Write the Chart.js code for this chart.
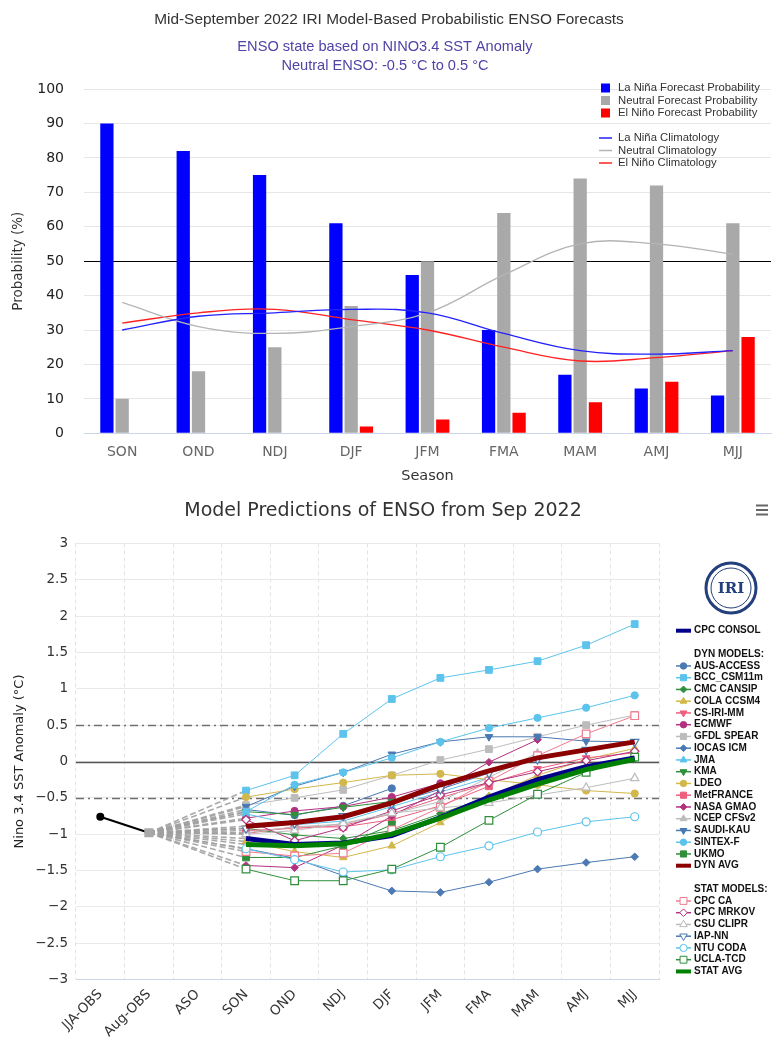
<!DOCTYPE html>
<html>
<head>
<meta charset="utf-8">
<title>ENSO Forecasts – September 2022</title>
<script src="https://cdn.jsdelivr.net/npm/chart.js@4.4.1/dist/chart.umd.min.js"></script>
<style>
  html, body { margin: 0; padding: 0; background: #ffffff; }
  #page { position: relative; width: 772px; height: 1037px; overflow: hidden; }
  #probBox { position: absolute; left: 0; top: 0; width: 772px; height: 490px; }
  #plumeBox { position: absolute; left: 0; top: 490px; width: 772px; height: 547px; }
</style>
</head>
<body>
<div id="page">
  <div id="probBox"><canvas id="probChart"></canvas></div>
  <div id="plumeBox"><canvas id="plumeChart"></canvas></div>
</div>
<script>
// ---------------- Probabilistic forecast (upper panel) ----------------
const probTitle = 'Mid-September 2022 IRI Model-Based Probabilistic ENSO Forecasts';
const probSubtitles = ['ENSO state based on NINO3.4 SST Anomaly', 'Neutral ENSO: -0.5 °C to 0.5 °C'];
const seasons = ['SON', 'OND', 'NDJ', 'DJF', 'JFM', 'FMA', 'MAM', 'AMJ', 'MJJ'];
const probTicks = [0, 10, 20, 30, 40, 50, 60, 70, 80, 90, 100];
const majorityLine = 50;

const laNinaProb  = [90, 82, 75, 61, 46, 30, 17, 13, 11];
const neutralProb = [10, 18, 25, 37, 50, 64, 74, 72, 61];
const elNinoProb  = [0, 0, 0, 2, 4, 6, 9, 15, 28];

const laNinaClim  = [30, 34, 35, 36, 35, 29, 24, 23, 24];
const neutralClim = [38, 31, 29, 31, 35, 46, 55, 55, 52];
const elNinoClim  = [32, 35, 36, 33, 30, 25, 21, 22, 24];

// ---------------- Model plume (lower panel) ----------------
const plumeTitle = 'Model Predictions of ENSO from Sep 2022';
const periods = ['JJA-OBS', 'Aug-OBS', 'ASO', 'SON', 'OND', 'NDJ', 'DJF', 'JFM', 'FMA', 'MAM', 'AMJ', 'MJJ'];
const anomalyTicks = [-3, -2.5, -2, -1.5, -1, -0.5, 0, 0.5, 1, 1.5, 2, 2.5, 3];
const neutralBounds = [-0.5, 0.5];
const obsValues = [-0.76, -0.98];

// forecast values for SON ... MJJ (null = season not forecast)
const cpcConsol = [-1.06, -1.14, -1.12, -1.02, -0.77, -0.49, -0.25, -0.07, 0.05];
const ausAccess = [-0.66, -0.74, -0.61, -0.37, null, null, null, null, null];
const bccCsm    = [-0.40, -0.19, 0.38, 0.86, 1.15, 1.26, 1.38, 1.60, 1.89];
const cmcCansip = [-0.92, -1.01, -1.06, -0.95, -0.72, -0.48, -0.26, -0.08, 0.04];
const colaCcsm4 = [-1.10, -1.24, -1.32, -1.16, -0.84, -0.48, -0.19, 0.03, 0.18];
const csIriMm   = [-0.95, -0.92, -0.88, -0.72, -0.50, -0.30, -0.10, 0.05, 0.12];
const ecmwf     = [-0.78, -0.68, -0.62, -0.49, -0.30, null, null, null, null];
const gfdlSpear = [-0.60, -0.50, -0.39, -0.19, 0.02, 0.17, 0.34, 0.50, 0.64];
const iocasIcm  = [-1.20, -1.33, -1.57, -1.78, -1.80, -1.66, -1.48, -1.39, -1.31];
const jma       = [-0.72, -0.87, -0.82, -0.62, -0.42, -0.22, null, null, null];
const kma       = [-0.69, -0.73, -0.63, -0.55, null, null, null, null, null];
const ldeo      = [-0.49, -0.38, -0.29, -0.19, -0.17, -0.25, -0.32, -0.40, -0.44];
const metFrance = [-0.99, -0.90, -0.90, -0.80, -0.61, -0.34, null, null, null];
const nasaGmao  = [-1.43, -1.46, -1.15, -0.75, -0.40, -0.01, 0.30, null, null];
const ncepCfs   = [-0.98, -0.90, -0.86, -0.72, -0.55, -0.22, 0.12, null, null];
const saudiKau  = [-0.62, -0.34, -0.15, 0.10, 0.27, 0.34, 0.34, 0.28, 0.27];
const sintexF   = [-0.69, -0.32, -0.15, 0.05, 0.27, 0.46, 0.60, 0.74, 0.91];
const ukmo      = [-1.32, -1.32, -1.16, -0.87, null, null, null, null, null];
const dynAvg    = [-0.89, -0.84, -0.76, -0.57, -0.32, -0.13, 0.05, 0.16, 0.27];
const cpcCa     = [-1.24, -1.30, -1.26, -0.94, -0.63, -0.27, 0.08, 0.38, 0.63];
const cpcMrkov  = [-0.80, -1.09, -0.91, -0.68, -0.46, -0.29, -0.14, 0.01, 0.14];
const csuClipr  = [-1.00, -0.95, -0.85, -0.71, -0.64, -0.57, -0.46, -0.36, -0.23];
const iapNn     = [-0.92, -0.85, -0.75, -0.58, -0.38, -0.16, 0.03, 0.16, 0.27];
const ntuCoda   = [-1.20, -1.35, -1.52, -1.49, -1.31, -1.16, -0.97, -0.83, -0.76];
const uclaTcd   = [-1.48, -1.64, -1.64, -1.48, -1.18, -0.81, -0.45, -0.15, 0.06];
const statAvg   = [-1.14, -1.16, -1.13, -1.00, -0.78, -0.53, -0.31, -0.11, 0.03];

// palette
const SKY = '#5cc3ec', STEEL = '#4a79b3', GREEN = '#2f8f3a', GOLD = '#d2b74a',
      ROSE = '#ee5e7d', PLUM = '#b2327f', SILVER = '#bcbcbc';

const plumeSeries = [
  { name: 'CPC CONSOL', values: cpcConsol, color: '#00008b', avg: true, order: 2 },
  { name: 'AUS-ACCESS', values: ausAccess, color: STEEL, style: 'circle', r: 3.6 },
  { name: 'BCC_CSM11m', values: bccCsm, color: SKY, style: 'rect', r: 4.8 },
  { name: 'CMC CANSIP', values: cmcCansip, color: GREEN, style: 'rectRot', r: 3.8 },
  { name: 'COLA CCSM4', values: colaCcsm4, color: GOLD, style: 'triangle', r: 4.4 },
  { name: 'CS-IRI-MM', values: csIriMm, color: ROSE, style: 'triangle', rot: 180, r: 4.4 },
  { name: 'ECMWF', values: ecmwf, color: PLUM, style: 'circle', r: 3.6 },
  { name: 'GFDL SPEAR', values: gfdlSpear, color: SILVER, style: 'rect', r: 4.8 },
  { name: 'IOCAS ICM', values: iocasIcm, color: STEEL, style: 'rectRot', r: 3.8 },
  { name: 'JMA', values: jma, color: SKY, style: 'triangle', r: 4.4 },
  { name: 'KMA', values: kma, color: GREEN, style: 'triangle', rot: 180, r: 4.4 },
  { name: 'LDEO', values: ldeo, color: GOLD, style: 'circle', r: 3.6 },
  { name: 'MetFRANCE', values: metFrance, color: ROSE, style: 'rect', r: 4.8 },
  { name: 'NASA GMAO', values: nasaGmao, color: PLUM, style: 'rectRot', r: 3.8 },
  { name: 'NCEP CFSv2', values: ncepCfs, color: SILVER, style: 'triangle', r: 4.4 },
  { name: 'SAUDI-KAU', values: saudiKau, color: STEEL, style: 'triangle', rot: 180, r: 4.4 },
  { name: 'SINTEX-F', values: sintexF, color: SKY, style: 'circle', r: 3.6 },
  { name: 'UKMO', values: ukmo, color: GREEN, style: 'rect', r: 4.8 },
  { name: 'DYN AVG', values: dynAvg, color: '#8b0000', avg: true, order: 3 },
  { name: 'CPC CA', values: cpcCa, color: '#f07a8e', style: 'rect', r: 5.4, hollow: true },
  { name: 'CPC MRKOV', values: cpcMrkov, color: PLUM, style: 'rectRot', r: 4.2, hollow: true },
  { name: 'CSU CLIPR', values: csuClipr, color: SILVER, style: 'triangle', r: 4.8, hollow: true },
  { name: 'IAP-NN', values: iapNn, color: STEEL, style: 'triangle', rot: 180, r: 4.8, hollow: true },
  { name: 'NTU CODA', values: ntuCoda, color: SKY, style: 'circle', r: 4.0, hollow: true },
  { name: 'UCLA-TCD', values: uclaTcd, color: GREEN, style: 'rect', r: 5.4, hollow: true },
  { name: 'STAT AVG', values: statAvg, color: '#008000', avg: true, order: 1 }
];

const legendRows = [
  'CPC CONSOL', '', 'DYN MODELS:',
  'AUS-ACCESS', 'BCC_CSM11m', 'CMC CANSIP', 'COLA CCSM4', 'CS-IRI-MM', 'ECMWF', 'GFDL SPEAR',
  'IOCAS ICM', 'JMA', 'KMA', 'LDEO', 'MetFRANCE', 'NASA GMAO', 'NCEP CFSv2', 'SAUDI-KAU',
  'SINTEX-F', 'UKMO', 'DYN AVG', '', 'STAT MODELS:',
  'CPC CA', 'CPC MRKOV', 'CSU CLIPR', 'IAP-NN', 'NTU CODA', 'UCLA-TCD', 'STAT AVG'
];

// ---------------- shared defaults ----------------
Chart.defaults.font.family = "'DejaVu Sans', sans-serif";
Chart.defaults.color = '#333333';
Chart.defaults.animation = false;
Chart.defaults.events = [];
Chart.defaults.devicePixelRatio = 1;

// ---------------- upper panel plugins ----------------
const probHeader = {
  id: 'probHeader',
  afterDraw(chart) {
    const ctx = chart.ctx;
    ctx.save();
    ctx.textAlign = 'center';
    ctx.textBaseline = 'middle';
    ctx.fillStyle = '#333333';
    ctx.font = "15.4px 'Liberation Sans', sans-serif";
    ctx.fillText(probTitle, 389, 20);
    ctx.fillStyle = '#4f43a6';
    ctx.font = "14.6px 'Liberation Sans', sans-serif";
    probSubtitles.forEach((t, i) => ctx.fillText(t, 385, 47 + i * 19));
    ctx.restore();
  }
};

const probThreshold = {
  id: 'probThreshold',
  beforeDatasetsDraw(chart) {
    const { ctx, chartArea: a, scales: { y } } = chart;
    const py = Math.round(y.getPixelForValue(majorityLine)) + 0.5;
    ctx.save();
    ctx.strokeStyle = '#000000';
    ctx.lineWidth = 1.2;
    ctx.beginPath();
    ctx.moveTo(a.left, py);
    ctx.lineTo(a.right, py);
    ctx.stroke();
    ctx.restore();
  }
};

const probLegend = {
  id: 'probLegend',
  afterDraw(chart) {
    const ctx = chart.ctx;
    const sets = chart.data.datasets;
    ctx.save();
    ctx.font = "11.3px 'Liberation Sans', sans-serif";
    ctx.textBaseline = 'middle';
    ctx.textAlign = 'left';
    let barRow = 0, lineRow = 0;
    sets.forEach(ds => {
      let y;
      if (ds.type === 'line') {
        y = 138 + lineRow * 12.5; lineRow++;
        ctx.strokeStyle = ds.borderColor;
        ctx.lineWidth = 1.5;
        ctx.beginPath(); ctx.moveTo(599, y); ctx.lineTo(612, y); ctx.stroke();
      } else {
        y = 88 + barRow * 12.5; barRow++;
        ctx.fillStyle = ds.backgroundColor;
        ctx.fillRect(601, y - 4.5, 9, 9);
      }
      ctx.fillStyle = '#333333';
      ctx.fillText(ds.label, 618, y);
    });
    ctx.restore();
  }
};

new Chart(document.getElementById('probChart'), {
  type: 'bar',
  data: {
    labels: seasons,
    datasets: [
      { label: 'La Niña Forecast Probability', data: laNinaProb, backgroundColor: '#0000ff', order: 2 },
      { label: 'Neutral Forecast Probability', data: neutralProb, backgroundColor: '#a9a9a9', order: 2 },
      { label: 'El Niño Forecast Probability', data: elNinoProb, backgroundColor: '#ff0000', order: 2 },
      { type: 'line', label: 'La Niña Climatology', data: laNinaClim, borderColor: '#2222ff', borderWidth: 1.3, pointRadius: 0, tension: 0.4, order: 1 },
      { type: 'line', label: 'Neutral Climatology', data: neutralClim, borderColor: '#b4b4b4', borderWidth: 1.3, pointRadius: 0, tension: 0.4, order: 1 },
      { type: 'line', label: 'El Niño Climatology', data: elNinoClim, borderColor: '#ff2222', borderWidth: 1.3, pointRadius: 0, tension: 0.4, order: 1 }
    ]
  },
  options: {
    responsive: true,
    maintainAspectRatio: false,
    layout: { padding: { top: 89, right: 1, left: 0, bottom: 0 } },
    datasets: { bar: { barPercentage: 0.87, categoryPercentage: 0.6 } },
    plugins: { legend: { display: false }, tooltip: { enabled: false }, title: { display: false } },
    scales: {
      x: {
        grid: { display: false },
        border: { display: true, color: '#ccd6eb' },
        ticks: { color: '#666666', font: { size: 14 }, padding: 3 },
        title: { display: true, text: 'Season', color: '#333333', font: { size: 14.5 }, padding: { top: 0, bottom: 5 } },
        afterFit(s) { s.height = 56.7; }
      },
      y: {
        min: 0, max: 100,
        afterBuildTicks(s) { s.ticks = probTicks.map(v => ({ value: v })); },
        ticks: { color: '#222222', font: { size: 14 }, padding: 20 },
        grid: { color: '#e6e6e6', drawTicks: false },
        border: { display: false },
        title: { display: true, text: 'Probability (%)', color: '#333333', font: { size: 13.5 }, padding: { top: 10, bottom: 0 } },
        afterFit(s) { s.width = 84; }
      }
    }
  },
  plugins: [probThreshold, probHeader, probLegend]
});

// ---------------- lower panel plugins ----------------
const plumeRefLines = {
  id: 'plumeRefLines',
  beforeDatasetsDraw(chart) {
    const { ctx, chartArea: a, scales: { y } } = chart;
    ctx.save();
    ctx.strokeStyle = '#707070';
    ctx.lineWidth = 1.6;
    ctx.setLineDash([8, 4, 2, 4]);
    neutralBounds.forEach(v => {
      const py = Math.round(y.getPixelForValue(v)) + 0.5;
      ctx.beginPath(); ctx.moveTo(a.left, py); ctx.lineTo(a.right, py); ctx.stroke();
    });
    ctx.setLineDash([]);
    ctx.strokeStyle = '#555555';
    ctx.lineWidth = 1.5;
    const p0 = Math.round(y.getPixelForValue(0)) + 0.5;
    ctx.beginPath(); ctx.moveTo(a.left, p0); ctx.lineTo(a.right, p0); ctx.stroke();
    ctx.restore();
  }
};

const plumeDecor = {
  id: 'plumeDecor',
  afterDraw(chart) {
    const ctx = chart.ctx;
    ctx.save();
    // title
    ctx.fillStyle = '#333333';
    ctx.font = "19px 'DejaVu Sans', sans-serif";
    ctx.textAlign = 'center';
    ctx.textBaseline = 'middle';
    ctx.fillText(plumeTitle, 383, 21);
    // export menu glyph
    ctx.strokeStyle = '#666666';
    ctx.lineWidth = 2;
    [15.5, 20, 24.5].forEach(yy => { ctx.beginPath(); ctx.moveTo(756, yy); ctx.lineTo(768, yy); ctx.stroke(); });
    // IRI emblem
    ctx.translate(731, 98);
    ctx.beginPath(); ctx.arc(0, 0, 25, 0, Math.PI * 2);
    ctx.fillStyle = '#ffffff'; ctx.fill();
    ctx.lineWidth = 3; ctx.strokeStyle = '#23407c'; ctx.stroke();
    ctx.beginPath(); ctx.arc(0, 0, 20, 0, Math.PI * 2);
    ctx.lineWidth = 1; ctx.stroke();
    ctx.fillStyle = '#23407c';
    ctx.font = "bold 15px 'DejaVu Serif', serif";
    ctx.fillText('IRI', 0, 1);
    ctx.restore();
  }
};

const plumeLegend = {
  id: 'plumeLegend',
  afterDraw(chart) {
    const ctx = chart.ctx;
    const sets = chart.data.datasets;
    ctx.save();
    ctx.font = "bold 10px 'Liberation Sans', sans-serif";
    ctx.textAlign = 'left';
    ctx.textBaseline = 'middle';
    legendRows.forEach((name, i) => {
      if (!name) return;
      const y = 140.7 + i * 11.75;
      const ds = sets.find(d => d.label === name);
      if (ds) {
        ctx.strokeStyle = ds.borderColor;
        ctx.lineWidth = ds.isAverage ? 4 : 1.5;
        ctx.beginPath(); ctx.moveTo(676, y); ctx.lineTo(691, y); ctx.stroke();
        if (!ds.isAverage) {
          ctx.fillStyle = ds.pointBackgroundColor;
          ctx.strokeStyle = ds.borderColor;
          ctx.lineWidth = 1;
          Chart.helpers.drawPoint(ctx, {
            pointStyle: ds.pointStyle, rotation: ds.pointRotation,
            radius: ds.markerRadius * 0.9, borderWidth: 1
          }, 683.5, y);
        }
      }
      ctx.fillStyle = '#111111';
      ctx.fillText(name, 694, y);
    });
    ctx.restore();
  }
};

// each forecast is prefixed with the August observation so the dashed
// connector runs from Aug-OBS (index 1) across ASO to the first forecast season
const FIRST_FORECAST = 3;
function plumeDataset(s, idx) {
  const data = [null, obsValues[1], null].concat(s.values);
  const fill = s.hollow ? '#ffffff' : s.color;
  const isConnector = c => c.p1DataIndex <= FIRST_FORECAST;
  return {
    type: 'line',
    label: s.name,
    data,
    isAverage: !!s.avg,
    markerRadius: s.r || 0,
    borderColor: s.color,
    backgroundColor: fill,
    borderWidth: s.avg ? 5 : 1,
    pointStyle: s.style || 'circle',
    pointRotation: s.rot || 0,
    pointBackgroundColor: fill,
    pointBorderColor: s.color,
    pointBorderWidth: s.hollow ? 1.2 : 1,
    pointRadius: ctx => (s.avg || ctx.dataIndex < FIRST_FORECAST) ? 0 : s.r,
    spanGaps: true,
    tension: 0,
    order: s.avg ? s.order : 100 - idx,
    segment: {
      borderColor: c => isConnector(c) ? 'rgba(160,160,160,0.9)' : undefined,
      borderDash: c => isConnector(c) ? [6, 3] : undefined,
      borderWidth: c => isConnector(c) ? 1.6 : undefined
    }
  };
}

const plumeDatasets = plumeSeries.map(plumeDataset);
plumeDatasets.push({
  type: 'line',
  label: 'OBS',
  data: obsValues.concat(new Array(periods.length - obsValues.length).fill(null)),
  borderColor: '#000000',
  borderWidth: 2,
  pointStyle: ['circle', 'rect'],
  pointRadius: [3, 5],
  pointBackgroundColor: ['#000000', '#a8a8a8'],
  pointBorderColor: ['#000000', '#a8a8a8'],
  order: 0
});

new Chart(document.getElementById('plumeChart'), {
  type: 'line',
  data: { labels: periods, datasets: plumeDatasets },
  options: {
    responsive: true,
    maintainAspectRatio: false,
    layout: { padding: { top: 53.4, right: 113, left: 0, bottom: 0 } },
    plugins: { legend: { display: false }, tooltip: { enabled: false }, title: { display: false } },
    scales: {
      x: {
        offset: true,
        grid: { offset: true, color: '#e3e3e3', drawTicks: false },
        border: { display: true, color: '#ccd6eb', dash: [4, 3] },
        ticks: { color: '#333333', font: { size: 13.5 }, minRotation: 45, maxRotation: 45, autoSkip: false, padding: 7 },
        afterFit(s) { s.height = 57.4; }
      },
      y: {
        min: -3, max: 3,
        afterBuildTicks(s) { s.ticks = anomalyTicks.map(v => ({ value: v })); },
        ticks: {
          color: '#333333', font: { size: 13.5 }, padding: 8,
          callback: v => (v < 0 ? '\u2212' : '') + Math.abs(v)
        },
        grid: { color: '#e9e9e9', drawTicks: false },
        border: { display: false },
        title: { display: true, text: 'Nino 3.4 SST Anomaly (°C)', color: '#222222', font: { size: 13 }, padding: { top: 12, bottom: 0 } },
        afterFit(s) { s.width = 76; }
      }
    }
  },
  plugins: [plumeRefLines, plumeDecor, plumeLegend]
});
</script>
</body>
</html>
